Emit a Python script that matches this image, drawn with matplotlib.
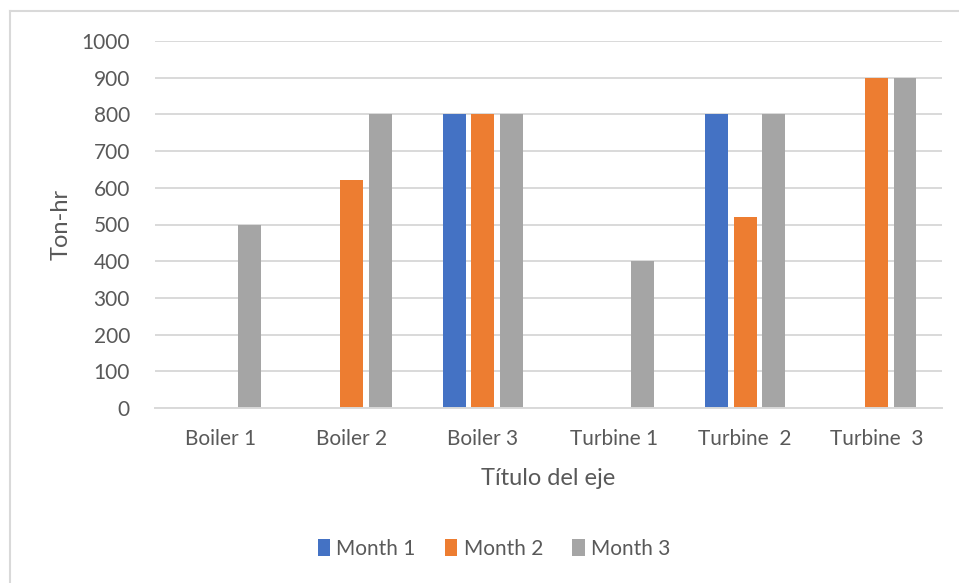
import numpy as np
import matplotlib.pyplot as plt
from matplotlib.lines import Line2D

categories = ['Boiler 1', 'Boiler 2', 'Boiler 3', 'Turbine 1', 'Turbine  2', 'Turbine  3']
series_names = ['Month 1', 'Month 2', 'Month 3']
month1 = [0, 0, 800, 0, 800, 0]
month2 = [0, 620, 800, 0, 520, 900]
month3 = [500, 800, 800, 400, 800, 900]
y_ticks = list(range(0, 1001, 100))

colors = ['#4472C4', '#ED7D31', '#A5A5A5']
text_color = '#595959'
grid_color = '#D9D9D9'

plt.rcParams['font.family'] = ['Lato', 'DejaVu Sans']

fig = plt.figure(figsize=(9.59, 5.83), dpi=100)
ax = fig.add_axes([155 / 959, 1 - 408 / 583, 787 / 959, 367 / 583])

x = np.arange(len(categories))
bar_w = 0.175
step = 0.218
for i, (vals, name) in enumerate(zip([month1, month2, month3], series_names)):
    ax.bar(x + (i - 1) * step, vals, width=bar_w, color=colors[i], label=name,
           zorder=3, linewidth=0)

ax.set_xlim(-0.5, len(categories) - 0.5)
ax.set_ylim(0, 1000)
ax.set_yticks(y_ticks)
ax.set_xticks(x)
ax.set_xticklabels(categories)
ax.yaxis.grid(True, color=grid_color, linewidth=1.4, zorder=0)
ax.set_axisbelow(True)

for side in ['top', 'right', 'left']:
    ax.spines[side].set_visible(False)
ax.spines['bottom'].set_color(grid_color)
ax.spines['bottom'].set_linewidth(1.4)
ax.spines['bottom'].set_zorder(4)

ax.tick_params(axis='both', length=0, labelsize=15, labelcolor=text_color)
ax.tick_params(axis='y', pad=18)
ax.tick_params(axis='x', pad=15)

ax.set_ylabel('Ton-hr', fontsize=17, color=text_color, labelpad=7)
ax.set_xlabel('Título del eje', fontsize=17, color=text_color, labelpad=14)

fig.legend(loc='center', bbox_to_anchor=(494 / 959, 1 - 549 / 583), ncol=3,
           frameon=False, fontsize=15, labelcolor=text_color,
           handlelength=0.6, handleheight=0.9, handletextpad=0.3,
           columnspacing=1.4)

# chart area border (left and top only visible)
fig.add_artist(Line2D([10 / 959, 10 / 959], [0, 1 - 11 / 583],
                      transform=fig.transFigure, color='#D9D9D9', linewidth=1.5))
fig.add_artist(Line2D([10 / 959, 1], [1 - 11 / 583, 1 - 11 / 583],
                      transform=fig.transFigure, color='#D9D9D9', linewidth=1.5))

fig.savefig('out.png', dpi=100)
